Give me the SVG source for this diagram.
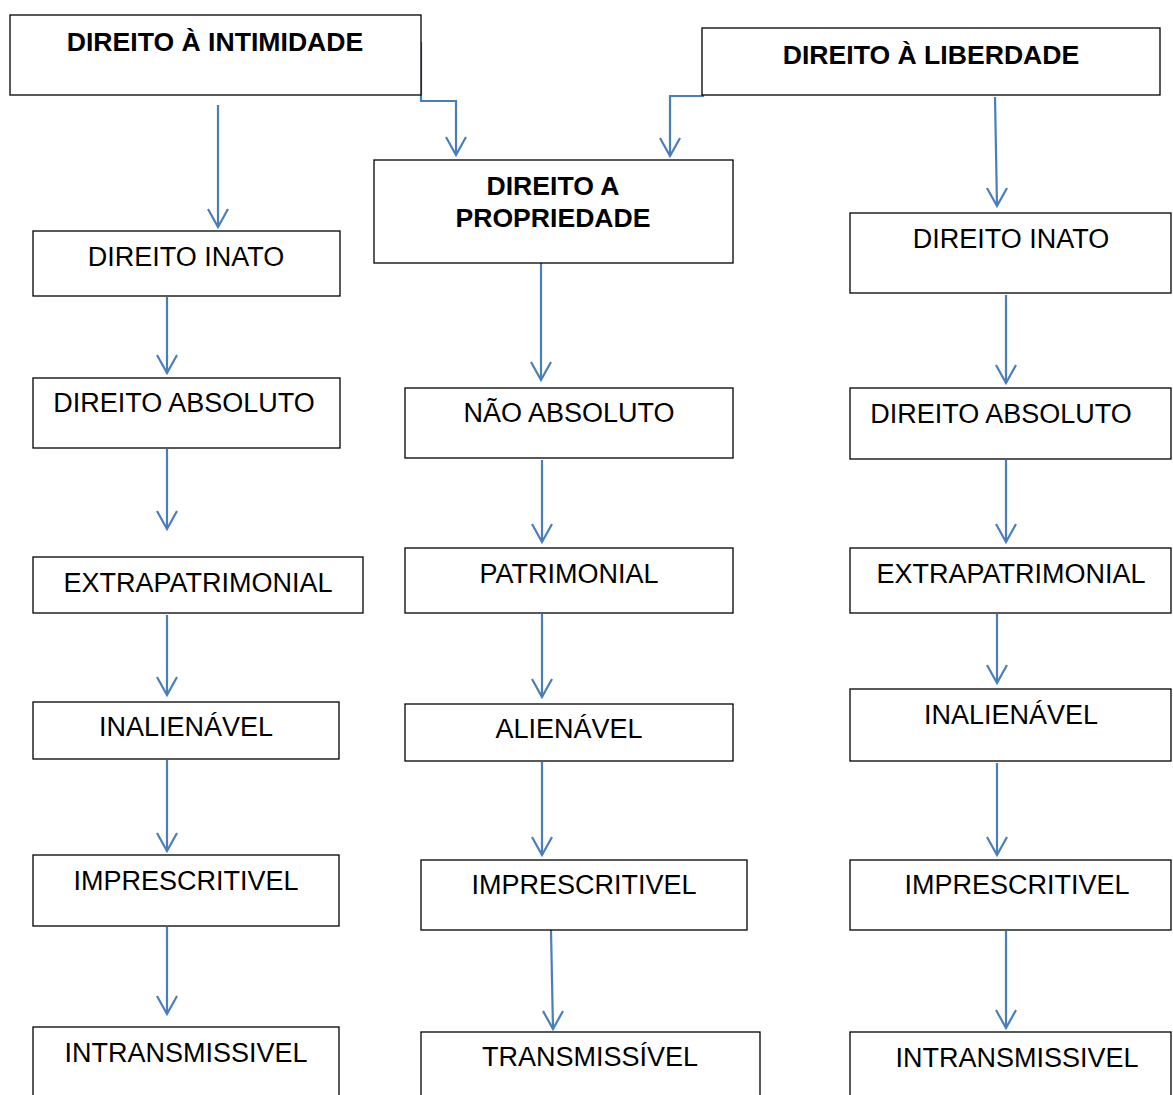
<svg xmlns="http://www.w3.org/2000/svg" width="1173" height="1095" viewBox="0 0 1173 1095">
<defs>
<marker id="av" markerUnits="userSpaceOnUse" markerWidth="30" markerHeight="30" viewBox="-15 -25 30 30" refX="0" refY="0" orient="0">
<path d="M-10,-18 L0,0 L10,-18" fill="none" stroke="#4a7ebb" stroke-width="2.2"/>
</marker>
</defs>
<style>
.b{fill:#fff;stroke:#000;stroke-width:1.3}
.t{font-family:"Liberation Sans",Arial,sans-serif;font-size:27px;fill:#000;text-anchor:middle}
.h{font-weight:bold;font-size:26.6px}
.c{fill:none;stroke:#4a7ebb;stroke-width:2.2;marker-end:url(#av)}
</style>
<rect width="1173" height="1095" fill="#fff"/>
<g id="connectors">
<path class="c" d="M218,105 L218,227"/>
<path class="c" d="M421,42 L421,101 L456,101 L456,155"/>
<path class="c" d="M703,28 L703,96 L670,96 L670,156"/>
<path class="c" d="M995,97 L997,206"/>
<path class="c" d="M541,256 L541,380"/>
<path class="c" d="M167,297 L167,373"/>
<path class="c" d="M167,449 L167,529"/>
<path class="c" d="M167,615 L167,695"/>
<path class="c" d="M167,760 L167,851"/>
<path class="c" d="M167,927 L167,1014"/>
<path class="c" d="M542,460 L542,542"/>
<path class="c" d="M542,614 L542,697"/>
<path class="c" d="M542,762 L542,855"/>
<path class="c" d="M551,930 L553,1029"/>
<path class="c" d="M1006,295 L1006,383"/>
<path class="c" d="M1006,460 L1006,542"/>
<path class="c" d="M997,614 L997,683"/>
<path class="c" d="M997,763 L997,855"/>
<path class="c" d="M1006,931 L1006,1028"/>
</g>
<g id="intimidade"><rect class="b" x="10" y="15" width="411" height="80"/><text class="t h" x="215" y="51">DIREITO À INTIMIDADE</text></g>
<g id="liberdade"><rect class="b" x="702" y="28" width="458" height="67"/><text class="t h" x="931" y="64">DIREITO À LIBERDADE</text></g>
<g id="propriedade"><rect class="b" x="374" y="160" width="359" height="103"/><text class="t h" x="553" y="195">DIREITO A</text><text class="t h" x="553" y="227">PROPRIEDADE</text></g>
<g id="l1"><rect class="b" x="33" y="231" width="307" height="65"/><text class="t" x="186" y="266">DIREITO INATO</text></g>
<g id="l2"><rect class="b" x="33" y="378" width="307" height="70"/><text class="t" x="184" y="412">DIREITO ABSOLUTO</text></g>
<g id="l3"><rect class="b" x="33" y="557" width="330" height="56"/><text class="t" x="198" y="592">EXTRAPATRIMONIAL</text></g>
<g id="l4"><rect class="b" x="33" y="702" width="306" height="57"/><text class="t" x="186" y="736">INALIENÁVEL</text></g>
<g id="l5"><rect class="b" x="33" y="855" width="306" height="71"/><text class="t" x="186" y="890">IMPRESCRITIVEL</text></g>
<g id="l6"><rect class="b" x="33" y="1027" width="306" height="80"/><text class="t" x="186" y="1062">INTRANSMISSIVEL</text></g>
<g id="m1"><rect class="b" x="405" y="388" width="328" height="70"/><text class="t" x="569" y="422">NÃO ABSOLUTO</text></g>
<g id="m2"><rect class="b" x="405" y="548" width="328" height="65"/><text class="t" x="569" y="583">PATRIMONIAL</text></g>
<g id="m3"><rect class="b" x="405" y="704" width="328" height="57"/><text class="t" x="569" y="738">ALIENÁVEL</text></g>
<g id="m4"><rect class="b" x="421" y="860" width="326" height="70"/><text class="t" x="584" y="894">IMPRESCRITIVEL</text></g>
<g id="m5"><rect class="b" x="421" y="1032" width="339" height="80"/><text class="t" x="590" y="1066">TRANSMISSÍVEL</text></g>
<g id="r1"><rect class="b" x="850" y="213" width="321" height="80"/><text class="t" x="1011" y="248">DIREITO INATO</text></g>
<g id="r2"><rect class="b" x="850" y="388" width="321" height="71"/><text class="t" x="1001" y="423">DIREITO ABSOLUTO</text></g>
<g id="r3"><rect class="b" x="850" y="548" width="321" height="65"/><text class="t" x="1011" y="583">EXTRAPATRIMONIAL</text></g>
<g id="r4"><rect class="b" x="850" y="689" width="321" height="72"/><text class="t" x="1011" y="724">INALIENÁVEL</text></g>
<g id="r5"><rect class="b" x="850" y="860" width="321" height="70"/><text class="t" x="1017" y="894">IMPRESCRITIVEL</text></g>
<g id="r6"><rect class="b" x="850" y="1032" width="321" height="80"/><text class="t" x="1017" y="1067">INTRANSMISSIVEL</text></g>
</svg>
